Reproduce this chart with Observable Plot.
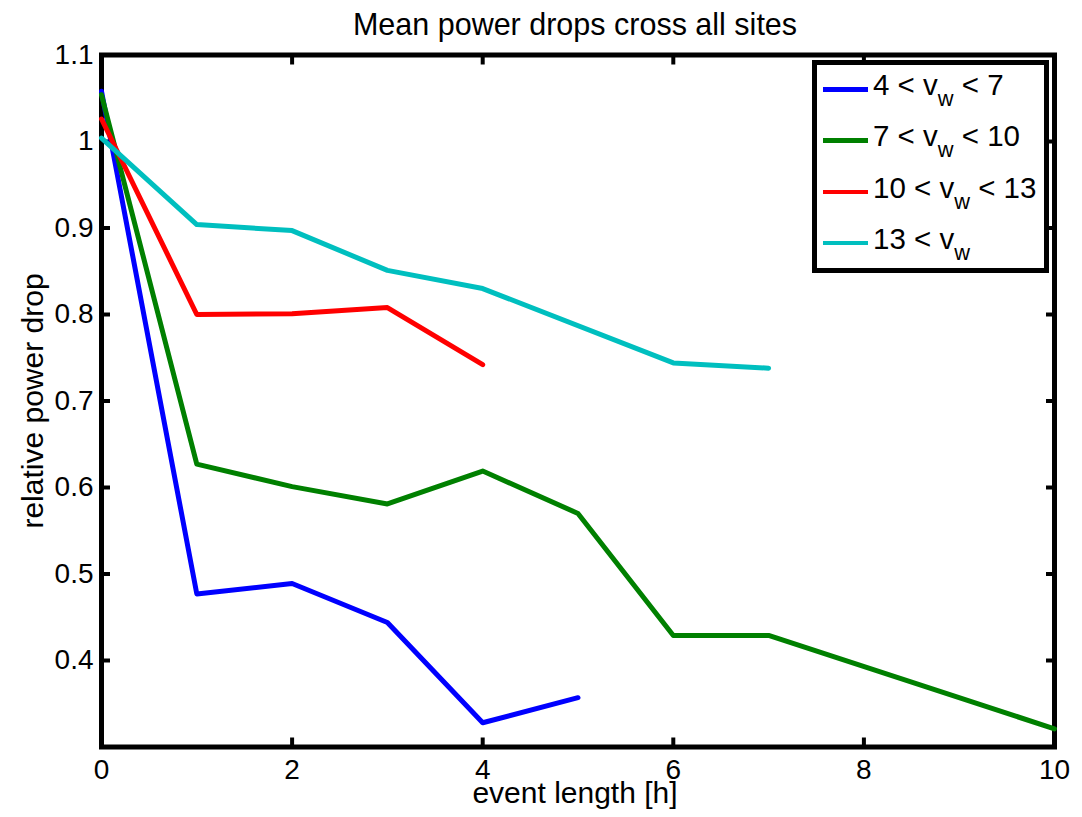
<!DOCTYPE html>
<html>
<head>
<meta charset="utf-8">
<script src="https://cdn.jsdelivr.net/npm/d3@7"></script>
<script src="https://cdn.jsdelivr.net/npm/@observablehq/plot@0.6"></script>
<style>
  body { margin: 0; background: #fff; }
  #wrap { position: relative; width: 1082px; height: 817px; font-family: "Liberation Sans", Arial, sans-serif; }
  #legend { position: absolute; left: 812px; top: 60px; width: 237px; height: 213px; box-sizing: border-box;
            border: 5px solid #000; background: #fff; }
  .swatch { position: absolute; left: 6px; width: 45px; height: 4.5px; }
  .ltext { position: absolute; left: 56px; font-size: 29.5px; line-height: 29.5px; white-space: nowrap; color: #000; }
  .ltext .sub { font-size: 0.74em; vertical-align: -0.5em; }
</style>
</head>
<body>
<div id="wrap"></div>
<script>
// ---- data ----
const chartTitle = "Mean power drops cross all sites";
const xLabel = "event length [h]";
const yLabel = "relative power drop";
const seriesNames = ["4 < vw < 7", "7 < vw < 10", "10 < vw < 13", "13 < vw"];
const seriesColors = ["#0000ff", "#008000", "#ff0000", "#00bfbf"];
const legendMain = [["4 < v", "w", " < 7"], ["7 < v", "w", " < 10"], ["10 < v", "w", " < 13"], ["13 < v", "w", ""]];

const lengthsBlue = [0, 1, 2, 3, 4, 5];
const dropBlue = [1.058, 0.477, 0.489, 0.444, 0.328, 0.357];
const lengthsGreen = [0, 1, 2, 3, 4, 5, 6, 7, 10];
const dropGreen = [1.054, 0.627, 0.601, 0.581, 0.619, 0.570, 0.429, 0.429, 0.321];
const lengthsRed = [0, 1, 2, 3, 4];
const dropRed = [1.026, 0.800, 0.801, 0.808, 0.742];
const lengthsCyan = [0, 1, 2, 3, 4, 6, 7];
const dropCyan = [1.004, 0.904, 0.897, 0.851, 0.830, 0.744, 0.738];

const xTicks = [0, 2, 4, 6, 8, 10];
const yTicks = [0.4, 0.5, 0.6, 0.7, 0.8, 0.9, 1, 1.1];

// ---- build ----
const rows = (xs, ys, s) => xs.map((x, i) => ({x, y: ys[i], s}));
const data = [
  ...rows(lengthsBlue, dropBlue, seriesNames[0]),
  ...rows(lengthsGreen, dropGreen, seriesNames[1]),
  ...rows(lengthsRed, dropRed, seriesNames[2]),
  ...rows(lengthsCyan, dropCyan, seriesNames[3])
];

const font = "Liberation Sans, Arial, sans-serif";
const blank = () => "";

const chart = Plot.plot({
  width: 1082,
  height: 817,
  marginLeft: 101,
  marginRight: 28,
  marginTop: 54.5,
  marginBottom: 70.5,
  style: {fontFamily: font, background: "white", color: "black", overflow: "visible"},
  x: {domain: [0, 10]},
  y: {domain: [0.3, 1.1]},
  color: {domain: seriesNames, range: seriesColors},
  marks: [
    Plot.frame({stroke: "black", strokeWidth: 5}),
    // inward tick marks on all four sides
    Plot.axisX(xTicks, {anchor: "bottom", tickSize: 9, dy: -9, strokeWidth: 4, tickFormat: blank, label: null}),
    Plot.axisX(xTicks, {anchor: "top", tickSize: 9, dy: 9, strokeWidth: 4, tickFormat: blank, label: null}),
    Plot.axisY(yTicks, {anchor: "left", tickSize: 9, dx: 9, strokeWidth: 4, tickFormat: blank, label: null}),
    Plot.axisY(yTicks, {anchor: "right", tickSize: 9, dx: -9, strokeWidth: 4, tickFormat: blank, label: null}),
    // tick labels
    Plot.axisX(xTicks, {anchor: "bottom", tickSize: 0, tickPadding: 12, fontSize: 28, tickFormat: d => String(d), label: null}),
    Plot.axisY(yTicks, {anchor: "left", tickSize: 0, tickPadding: 8, fontSize: 28, tickFormat: d => String(d), label: null}),
    // lines
    Plot.line(data, {x: "x", y: "y", z: "s", stroke: "s", strokeWidth: 5, strokeLinecap: "round", strokeLinejoin: "round"}),
    // title and labels
    Plot.text([chartTitle], {text: d => d, frameAnchor: "top", textAnchor: "middle", lineAnchor: "top", dy: -41.8, dx: -3, fontSize: 30.5}),
    Plot.text([xLabel], {text: d => d, frameAnchor: "bottom", textAnchor: "middle", lineAnchor: "top", dy: 35, dx: -3, fontSize: 30}),
    Plot.text([yLabel], {text: d => d, frameAnchor: "left", textAnchor: "middle", rotate: -90, lineAnchor: "middle", dx: -68.5, fontSize: 30})
  ]
});

const wrap = document.getElementById("wrap");
wrap.appendChild(chart);

// legend (inside the axes, top right)
const legend = document.createElement("div");
legend.id = "legend";
const rowStep = 51.3;
seriesNames.forEach((name, i) => {
  const sw = document.createElement("div");
  sw.className = "swatch";
  sw.style.top = (22 + i * rowStep) + "px";
  sw.style.background = seriesColors[i];
  legend.appendChild(sw);
  const t = document.createElement("div");
  t.className = "ltext";
  t.style.top = (5 + i * rowStep) + "px";
  const [a, s, b] = legendMain[i];
  t.appendChild(document.createTextNode(a));
  const sub = document.createElement("span");
  sub.className = "sub";
  sub.textContent = s;
  t.appendChild(sub);
  t.appendChild(document.createTextNode(b));
  legend.appendChild(t);
});
wrap.appendChild(legend);
</script>
</body>
</html>
